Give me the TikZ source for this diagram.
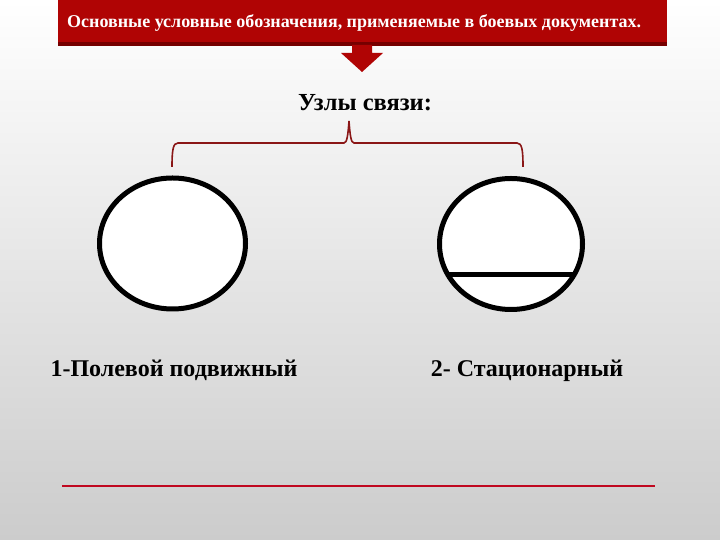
\documentclass[tikz,border=0pt]{standalone}
\usepackage{fontspec}
\setmainfont{Liberation Serif}
\usetikzlibrary{positioning,shapes.geometric,calc}
\definecolor{bannerred}{RGB}{176,4,4}
\definecolor{bannerdark}{RGB}{118,0,0}
\definecolor{bracered}{RGB}{138,22,22}
\definecolor{rulered}{RGB}{192,8,32}
\definecolor{bggray}{RGB}{204,204,204}

\begin{document}
\begin{tikzpicture}[x=1pt,y=1pt,
    knot/.style={draw=black,fill=white,ellipse,line width=5pt,outer sep=0pt,
                 minimum width=146pt,minimum height=131pt,inner sep=0pt},
    kind/.style={font=\bfseries\fontsize{24}{27}\selectfont,inner sep=0pt}]
  \useasboundingbox (0,0) rectangle (720,540);
  % slide background, white at the top fading to grey
  \shade[top color=white,bottom color=bggray] (0,0) rectangle (720,540);
  % red title banner with its darker lower edge
  \fill[bannerdark] (58,494) rectangle (667,540);
  \fill[bannerred] (58,498) rectangle (667,540);
  \node[anchor=base west,text=white,inner sep=0pt,
        font=\bfseries\fontsize{18}{21}\selectfont] (banner) at (67,512)
        {Основные условные обозначения, применяемые в боевых документах.};
  % block arrow pointing down from the banner
  \fill[bannerred] (352,495) -- (372,495) -- (372,487) -- (383,487)
        -- (362,468) -- (341,487) -- (352,487) -- cycle;
  \node[font=\bfseries\fontsize{24.5}{28}\selectfont,inner sep=0pt] (title)
        at (365,437) {Узлы связи:};
  % brace that splits into the two kinds
  \coordinate (bl) at (172,373);
  \coordinate (br) at (523,373);
  \coordinate (tip) at (349,419);
  \draw[bracered,line width=1.6pt] (bl) .. controls (172,390) and (173,397) .. (178,397)
        -- (344,397) .. controls (347,397) and (348,405) .. (tip)
        .. controls (350,405) and (351,397) .. (354,397)
        -- (517,397) .. controls (522,397) and (523,390) .. (br);
  % the two symbols
  \node[knot] (mobile) at (172.5,296.5) {};
  \node[knot,minimum width=143pt] (fixed) at (511,296) {};
  \draw[line width=5pt] (fixed.206) -- (fixed.-26);
  \node[kind,anchor=base] (mobilelbl) at (174,163) {1-Полевой подвижный};
  \node[kind,anchor=base] (fixedlbl) at (527,163) {2- Стационарный};
  % bottom rule
  \draw[rulered,line width=2pt] (62,54) -- (655,54);
\end{tikzpicture}
\end{document}
